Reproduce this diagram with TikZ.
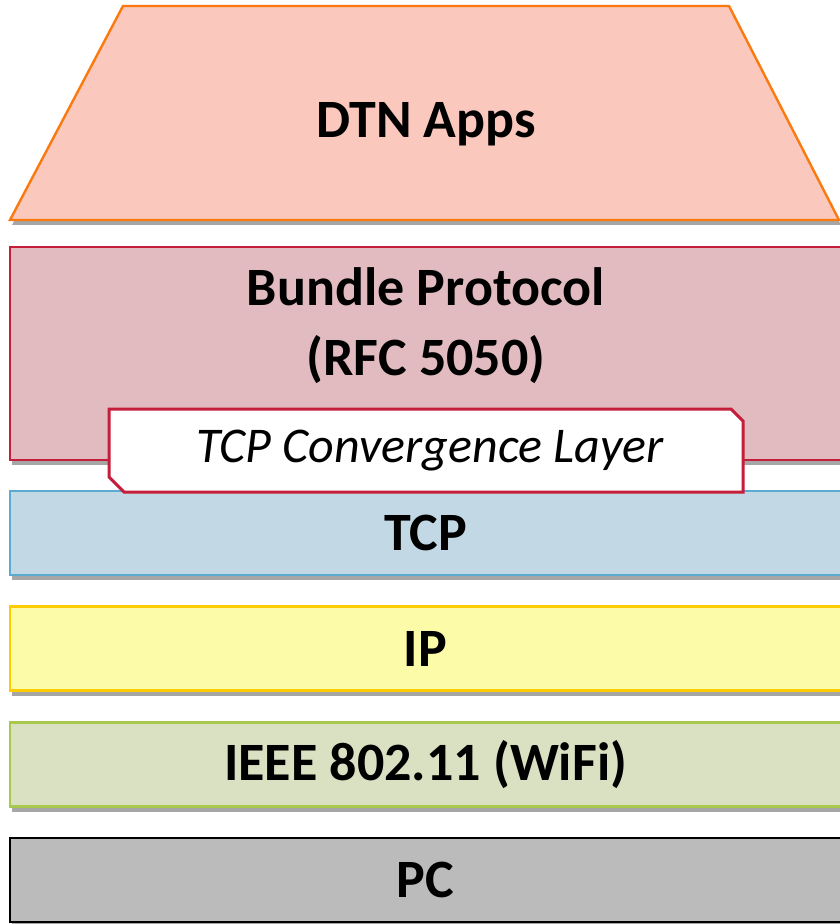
\documentclass[tikz,border=0pt]{standalone}
\usepackage{fontspec}
\setmainfont{Carlito}
\usepackage{tikz}
\usetikzlibrary{shadows}
\definecolor{apps}{HTML}{FAC8BC}
\definecolor{appsline}{HTML}{FA7A10}
\definecolor{bundle}{HTML}{E1BBBF}
\definecolor{bundleline}{HTML}{C41E3A}
\definecolor{tcp}{HTML}{C3D8E5}
\definecolor{tcpline}{HTML}{5AAAD2}
\definecolor{ip}{HTML}{FBFBA8}
\definecolor{ipline}{HTML}{FFCC00}
\definecolor{wifi}{HTML}{DAE0C2}
\definecolor{wifiline}{HTML}{A9C84E}
\definecolor{pc}{HTML}{BBBBBB}
\definecolor{pcline}{HTML}{000000}
\begin{document}
\begin{tikzpicture}[x=0.5pt,y=-0.5pt,
  shade/.style={drop shadow={shadow xshift=1pt,shadow yshift=-2.5pt,fill=black,opacity=0.35}},
  layer/.style={draw=#1line,fill=#1,line width=1.2pt,minimum width=415.5pt,minimum height=42pt,inner sep=0pt,shade,font=\fontsize{27}{35}\selectfont\bfseries},
  label/.style={font=\fontsize{27}{35}\selectfont\bfseries,align=center},
]
  \useasboundingbox (0,0) rectangle (839,924);

  % application layer
  \path[draw=appsline,fill=apps,line width=1.2pt,shade]
    (123,6) -- (729,6) -- (839,220) -- (10,220) -- cycle;
  \node[label] (apps) at (426,124) {DTN Apps};

  \node[layer=bundle,minimum height=106.5pt] (bp) at (425.5,353.5) {};
  \node[label] (bptext) at (426,326) {Bundle Protocol\\(RFC 5050)};

  \node[layer=tcp] (tcp) at (425.5,533) {TCP};
  \node[layer=ip] (ip) at (425.5,648.5) {IP};
  \node[layer=wifi] (wifi) at (425.5,764.5) {IEEE 802.11 (WiFi)};
  \node[layer=pc] (pc) at (425.5,880) {PC};

  % convergence layer on top of bundle/tcp
  \path[draw=bundleline,fill=white,line width=1.5pt]
    (109,409) -- (731,409) -- (743,421) -- (743,492) -- (124,492) -- (109,477) -- cycle;
  \node[font=\fontsize{25}{30}\selectfont\itshape] (cl) at (430,451) {TCP Convergence Layer};
\end{tikzpicture}
\end{document}
